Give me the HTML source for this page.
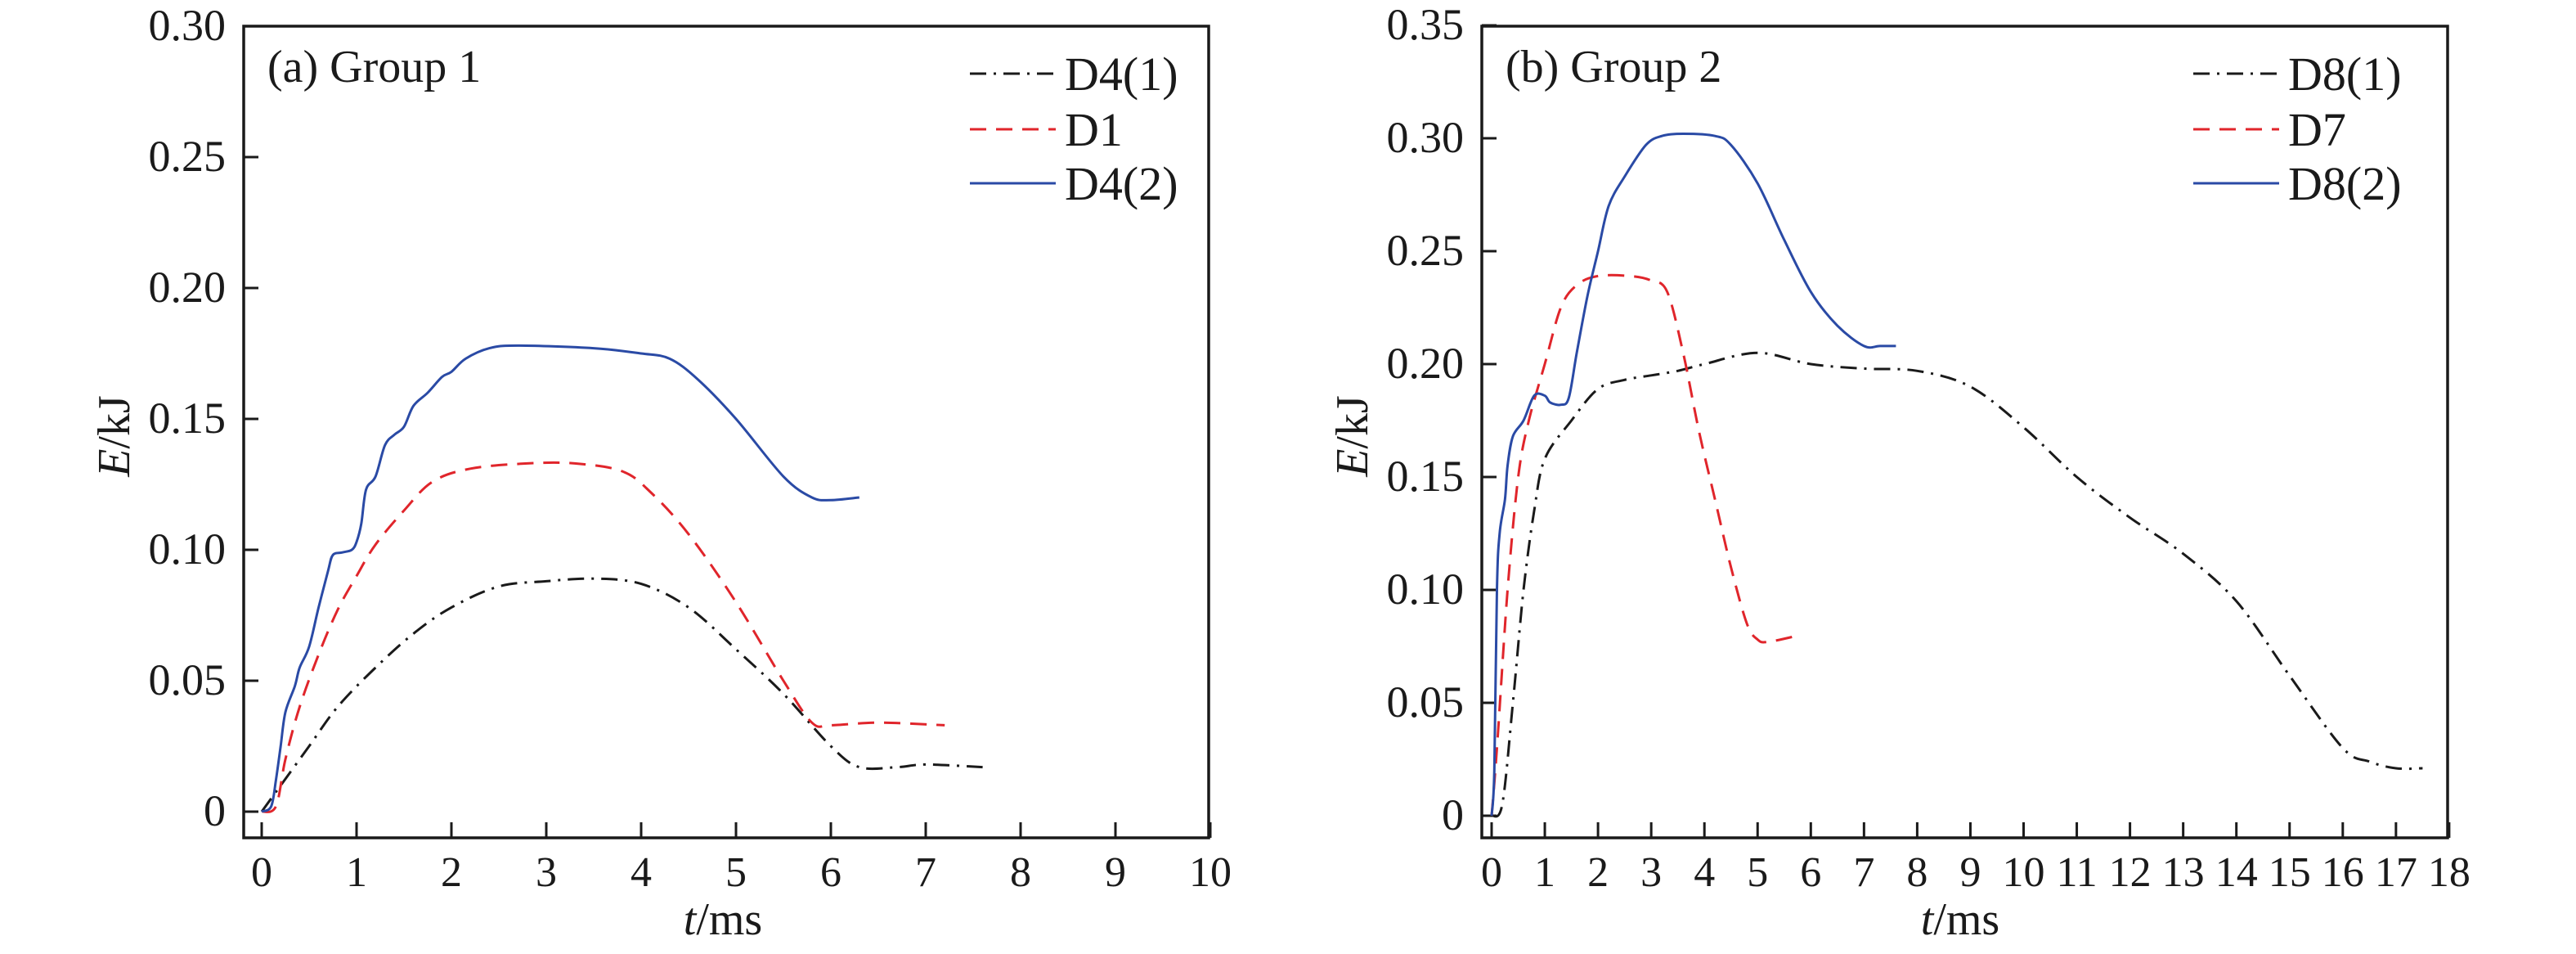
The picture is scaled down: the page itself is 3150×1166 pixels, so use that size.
<!DOCTYPE html>
<html><head><meta charset="utf-8"><style>
html,body{margin:0;padding:0;background:#fff;}
svg text{font-family:"Liberation Serif","Times New Roman",serif !important;}
</style></head><body>
<svg id="chart" width="3150" height="1161" viewBox="0 0 3150 1161" xmlns="http://www.w3.org/2000/svg" font-family="Liberation Serif, serif"></svg>
<script>
// ---- Panel (a) data ----
const aD42T = [0,0.1,0.15,0.2,0.25,0.35,0.4,0.5,0.6,0.7,0.75,0.85,0.95,1.0,1.05,1.1,1.2,1.3,1.4,1.5,1.6,1.75,1.9,2.0,2.15,2.4,2.7,3.5,4.0,4.3,4.6,5.0,5.5,5.8,6.0,6.3];
const aD42E = [0,0.002,0.012,0.025,0.038,0.048,0.055,0.063,0.078,0.092,0.098,0.099,0.1,0.103,0.11,0.123,0.128,0.14,0.144,0.147,0.155,0.16,0.166,0.168,0.173,0.177,0.178,0.177,0.175,0.173,0.165,0.15,0.128,0.12,0.119,0.12];
const aD1T = [0,0.15,0.25,0.4,0.6,0.8,1.0,1.2,1.5,1.8,2.2,2.8,3.3,3.8,4.1,4.5,5.0,5.5,5.8,6.0,6.5,7.2];
const aD1E = [0,0.002,0.02,0.04,0.06,0.077,0.09,0.102,0.115,0.126,0.131,0.133,0.133,0.13,0.122,0.106,0.08,0.05,0.034,0.033,0.034,0.033];
const aD41T = [0,0.2,0.5,0.8,1.2,1.6,2.0,2.5,3.0,3.5,4.0,4.5,5.0,5.5,6.0,6.3,6.7,7.0,7.6];
const aD41E = [0,0.01,0.025,0.04,0.055,0.068,0.078,0.086,0.088,0.089,0.087,0.078,0.062,0.045,0.025,0.017,0.017,0.018,0.017];
const aXTicks = [0,1,2,3,4,5,6,7,8,9,10];
const aYTicks = [0,0.05,0.10,0.15,0.20,0.25,0.30];
const aYLabels = ["0","0.05","0.10","0.15","0.20","0.25","0.30"];
// ---- Panel (b) data ----
const bD82T = [0,0.05,0.1,0.15,0.25,0.3,0.4,0.6,0.8,1.0,1.1,1.3,1.45,1.6,1.8,2.0,2.2,2.5,2.9,3.2,3.6,4.2,4.5,5.0,5.5,6.0,6.5,7.0,7.3,7.6];
const bD82E = [0,0.02,0.1,0.125,0.14,0.155,0.168,0.175,0.186,0.186,0.183,0.182,0.185,0.205,0.23,0.25,0.27,0.283,0.297,0.301,0.302,0.301,0.297,0.28,0.255,0.232,0.217,0.208,0.208,0.208];
const bD7T = [0,0.1,0.3,0.5,0.7,1.0,1.3,1.6,2.0,2.6,3.0,3.3,3.6,3.9,4.2,4.5,4.8,5.0,5.2,5.8];
const bD7E = [0,0.03,0.1,0.15,0.175,0.2,0.225,0.235,0.239,0.239,0.237,0.232,0.205,0.17,0.14,0.11,0.085,0.078,0.077,0.08];
const bD81T = [0,0.2,0.4,0.6,0.8,1.0,1.5,2.0,2.5,3.0,3.5,4.0,5.0,6.0,7.0,8.0,9.0,10.0,11.0,12.0,13.0,14.0,15.0,16.0,16.5,17.0,17.5];
const bD81E = [0,0.005,0.05,0.1,0.135,0.158,0.175,0.189,0.193,0.195,0.197,0.2,0.205,0.2,0.198,0.197,0.19,0.172,0.15,0.132,0.116,0.095,0.062,0.03,0.024,0.021,0.021];
const bXTicks = [0,1,2,3,4,5,6,7,8,9,10,11,12,13,14,15,16,17,18];
const bYTicks = [0,0.05,0.10,0.15,0.20,0.25,0.30,0.35];
const bYLabels = ["0","0.05","0.10","0.15","0.20","0.25","0.30","0.35"];

const NS = "http://www.w3.org/2000/svg";
const svg = document.getElementById('chart');
const FONT = "Liberation Serif, serif";
function mk(tag, attrs, parent){ const e=document.createElementNS(NS,tag); for(const k in attrs) e.setAttribute(k,attrs[k]); if(tag==='text') e.setAttribute('font-family',FONT); (parent||svg).appendChild(e); return e; }

const STY = {
  black:{stroke:"#1a1a1a","stroke-dasharray":"20 9 3 9"},
  red:{stroke:"#e0252b","stroke-dasharray":"20 12"},
  blue:{stroke:"#2a4aa5"}
};

// smooth path through points (Catmull-Rom)
function smooth(pts){
  let d = 'M'+pts[0][0].toFixed(1)+','+pts[0][1].toFixed(1);
  for(let i=0;i<pts.length-1;i++){
    const p0=pts[Math.max(0,i-1)],p1=pts[i],p2=pts[i+1],p3=pts[Math.min(pts.length-1,i+2)];
    const c1=[p1[0]+(p2[0]-p0[0])/6,p1[1]+(p2[1]-p0[1])/6];
    const c2=[p2[0]-(p3[0]-p1[0])/6,p2[1]-(p3[1]-p1[1])/6];
    d+=' C'+c1[0].toFixed(1)+','+c1[1].toFixed(1)+' '+c2[0].toFixed(1)+','+c2[1].toFixed(1)+' '+p2[0].toFixed(1)+','+p2[1].toFixed(1);
  }
  return d;
}

function panel(cfg){
  const g = mk('g',{});
  
  
  const x = v => cfg.x0 + v*cfg.xs;
  const y = v => cfg.y0 - v*cfg.ys;
  const box = mk('rect',{x:cfg.left,y:32,width:cfg.right-cfg.left,height:1024-32,fill:"none",stroke:"#1a1a1a","stroke-width":3.5},g);
  
  
  cfg.xt.forEach(t=>{
    const tk = mk('line',{x1:x(t),x2:x(t),y1:1024,y2:1005,stroke:"#1a1a1a","stroke-width":3},g);
    
    
    const tl = mk('text',{x:x(t),y:1083,"font-size":52,"text-anchor":"middle",fill:"#1a1a1a"},g);
    
    
    tl.textContent = String(t);
  });
  cfg.yt.forEach((t,i)=>{
    const tk = mk('line',{x1:cfg.left,x2:cfg.left+18,y1:y(t),y2:y(t),stroke:"#1a1a1a","stroke-width":3},g);
    
    
    const tl = mk('text',{x:cfg.left-22,y:y(t)+17,"font-size":54,"text-anchor":"end",fill:"#1a1a1a"},g);
    
    
    tl.textContent = cfg.yl[i];
  });
  cfg.series.forEach(s=>{
    const pts = s.t.map((t,i)=>[x(t),y(s.e[i])]);
    const a = Object.assign({d:smooth(pts),fill:"none","stroke-width":3,"stroke-linejoin":"round"},STY[s.c]);
    const p = mk('path',a,g);
    
    
  });
  cfg.series.forEach((s,i)=>{
    const ly = [90,158,224][i];
    const a = Object.assign({x1:cfg.lx,x2:cfg.lx+105,y1:ly,y2:ly,"stroke-width":3},STY[s.c]);
    const l = mk('line',a,g);
    
    
    const t = mk('text',{x:cfg.lx+116,y:ly+20,"font-size":58,fill:"#1a1a1a"},g);
    
    
    t.textContent = s.label;
  });
  const ti = mk('text',{x:cfg.left+29,y:100,"font-size":56,fill:"#1a1a1a"},g);
  
  
  ti.textContent = cfg.title;
  const xa = mk('text',{x:cfg.xtx,y:1142,"font-size":56,"text-anchor":"middle",fill:"#1a1a1a"},g);
  
  
  xa.innerHTML = '<tspan font-style="italic">t</tspan>/ms';
  const ya = mk('text',{x:0,y:0,"font-size":56,"text-anchor":"middle",fill:"#1a1a1a",transform:`translate(${cfg.ytx},533) rotate(-90)`},g);
  
  
  ya.innerHTML = '<tspan font-style="italic">E</tspan>/kJ';
}

panel({name:'panel-a-group-1',left:298,right:1478,x0:320,xs:116,y0:992,ys:3200,xt:aXTicks,yt:aYTicks,yl:aYLabels,
  lx:1186,title:'(a) Group 1',xtx:884,ytx:158,
  series:[{name:'series-d4-1',label:'D4(1)',c:'black',t:aD41T,e:aD41E},
          {name:'series-d1',label:'D1',c:'red',t:aD1T,e:aD1E},
          {name:'series-d4-2',label:'D4(2)',c:'blue',t:aD42T,e:aD42E}]});
panel({name:'panel-b-group-2',left:1812,right:2993,x0:1824,xs:65.05,y0:997,ys:2760,xt:bXTicks,yt:bYTicks,yl:bYLabels,
  lx:2682,title:'(b) Group 2',xtx:2397,ytx:1672,
  series:[{name:'series-d8-1',label:'D8(1)',c:'black',t:bD81T,e:bD81E},
          {name:'series-d7',label:'D7',c:'red',t:bD7T,e:bD7E},
          {name:'series-d8-2',label:'D8(2)',c:'blue',t:bD82T,e:bD82E}]});
</script>
</body></html>
